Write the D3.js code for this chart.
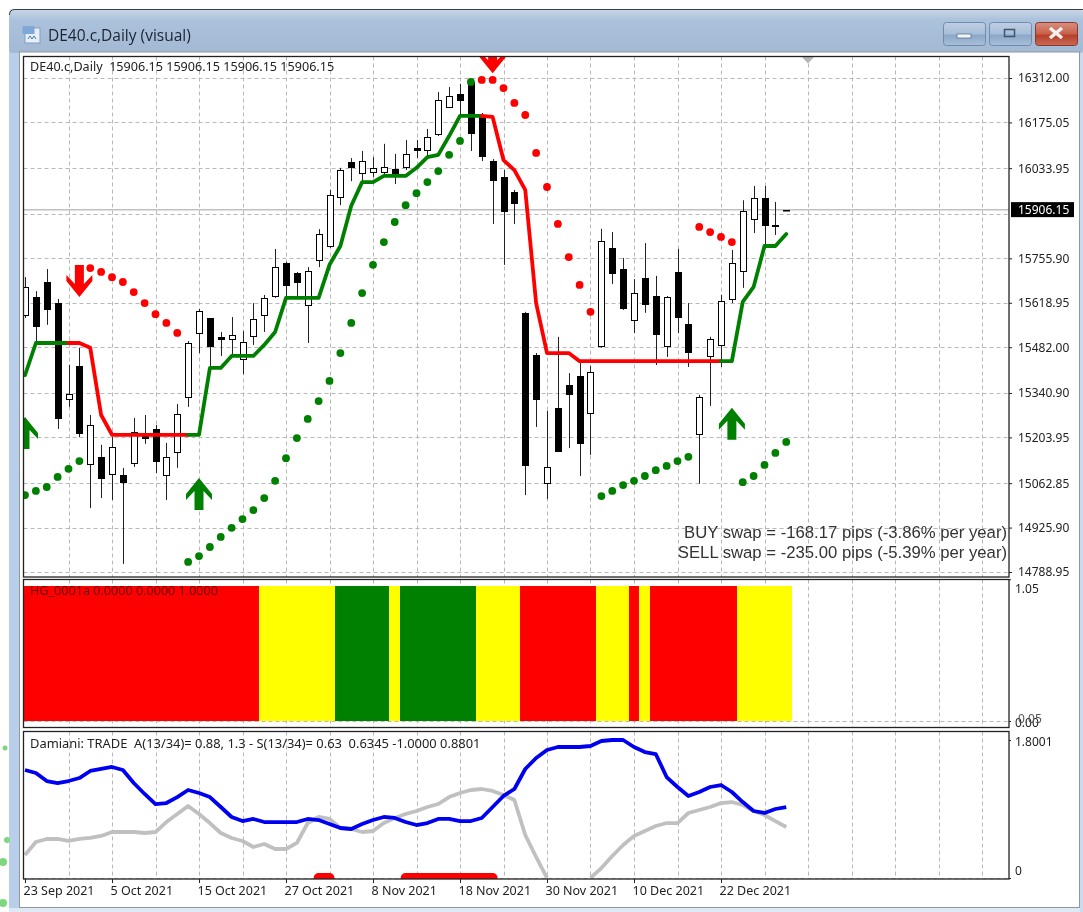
<!DOCTYPE html>
<html>
<head>
<meta charset="utf-8">
<title>DE40.c,Daily (visual)</title>
<script src="https://d3js.org/d3.v7.min.js"></script>
<style>
  html, body { margin: 0; padding: 0; background: #fff; }
  svg { display: block; filter: blur(0.35px); }
  text { font-family: "Noto Sans", "DejaVu Sans", sans-serif; white-space: pre; }
</style>
</head>
<body>
<div id="chart"></div>
<script>
// 1. data
const opens = [15581,15637,15683,15618,15322,15424,15122,15144,15091,15088,
  15125,15218,15230,15088,15159,15329,15526,15572,15514,15507,
  15446,15517,15581,15640,15742,15711,15612,15751,15794,15945,
  16053,16019,16022,16022,16031,16038,16096,16090,16139,16223,
  16263,16300,16198,16056,16007,15961,15588,15458,15063,15295,
  15366,15393,15279,15486,15788,15723,15566,15695,15640,15486,
  15714,15554,15215,15455,15489,15631,15717,15877,15942,15859,15906.15];
const highs = [15698,15655,15723,15631,15427,15480,15273,15181,15205,15110,
  15264,15273,15242,15187,15307,15501,15600,15572,15529,15575,
  15532,15618,15643,15785,15745,15714,15729,15846,15967,16035,
  16065,16087,16068,16109,16078,16121,16121,16155,16269,16284,
  16294,16306,16204,16062,16028,15967,15591,15464,15286,15514,
  15402,15433,15424,15847,15837,15757,15692,15803,15702,15640,
  15785,15618,15335,15514,15643,15782,15935,15979,15979,15930,15906.15];
const lows = [15572,15498,15551,15230,15298,15205,14986,15017,15011,14814,
  15113,15184,15094,15011,15110,15298,15464,15421,15455,15458,
  15399,15489,15529,15634,15634,15634,15495,15729,15788,15920,
  15994,15991,16007,16013,15985,16028,16065,16068,16133,16223,
  16198,16087,16056,15862,15736,15862,15026,15236,15014,15162,
  15171,15085,15150,15480,15677,15597,15526,15588,15427,15452,
  15526,15421,15061,15301,15421,15618,15665,15834,15797,15828,15906.15];
const closes = [15668,15547,15600,15264,15338,15218,15242,15079,15174,15066,
  15220,15202,15131,15144,15276,15495,15594,15486,15509,15520,
  15498,15569,15634,15729,15674,15683,15717,15831,15951,16028,
  16038,16056,16035,16038,16016,16078,16090,16130,16244,16257,
  16244,16142,16071,15998,15902,15927,15119,15322,15113,15162,
  15338,15187,15405,15810,15711,15603,15649,15615,15523,15637,
  15575,15467,15329,15507,15625,15742,15902,15942,15859,15856,15906.15];

// trend line, with runs of [from, to, direction]
const trend = [15396,15495,15495,15495,15495,15495,15480,15273,15212,15212,
  15212,15212,15212,15212,15212,15212,15212,15418,15418,15455,
  15455,15455,15489,15529,15634,15634,15634,15634,15736,15794,
  15918,15991,15991,16010,16010,16010,16035,16068,16075,16133,
  16195,16195,16195,16192,16059,16028,15967,15618,15464,15464,
  15464,15439,15439,15439,15439,15439,15439,15439,15439,15439,
  15439,15439,15439,15439,15439,15439,15622,15668,15794,15794,15831];
const trendRuns = [[0,4,1],[4,15,-1],[15,42,1],[42,64,-1],[64,70,1]];

// dotted stop line
const sar = [15026,15039,15051,15082,15107,15131,
  15726,15714,15698,15683,15652,15618,15584,15557,15526,
  14820,14838,14866,14897,14925,14952,14980,15017,15070,15140,
  15202,15261,15316,15378,15464,15557,15649,15736,15806,15868,
  15920,15957,15991,16025,16075,16118,16300,
  16306,16306,16281,16235,16198,16081,15976,15862,15760,15674,15591,
  15023,15039,15057,15070,15085,15103,15116,15131,15144,
  15853,15837,15822,15806,
  15066,15085,15119,15156,15190];
const sarRuns = [[0,5,1],[6,14,-1],[15,41,1],[42,52,-1],[53,61,1],[62,65,-1],[66,70,1]];

// arrows: [bar, tip price, direction]
const arrows = [[0,15267,1],[5,15637,-1],[16,15079,1],[43,16327,-1],[65,15295,1]];

// HG_0001a: 0 green, 1 yellow, 2 red
const hgState = [2,2,2,2,2,2,2,2,2,2,2,2,2,2,2,2,2,2,2,2,2,2,
  1,1,1,1,1,1,1,
  0,0,0,0,0,
  1,
  0,0,0,0,0,0,0,
  1,1,1,1,
  2,2,2,2,2,2,2,
  1,1,1,
  2,
  1,
  2,2,2,2,2,2,2,2,
  1,1,1,1,1];

// Damiani
const damianiA = [1.409,1.370,1.265,1.239,1.265,1.304,1.396,1.422,1.448,1.409,
  1.239,1.096,.965,.978,1.056,1.148,1.109,1.056,.926,.796,
  .743,.770,.730,.730,.730,.730,.770,.756,.704,.652,
  .639,.704,.756,.796,.783,.730,.691,.717,.770,.770,
  .743,.743,.783,.926,1.070,1.161,1.422,1.565,1.670,1.709,
  1.709,1.709,1.722,1.787,1.800,1.800,1.709,1.643,1.617,1.317,
  1.187,1.070,1.122,1.187,1.213,1.122,.991,.874,.848,.900,.926];
const damianiS = [.300,.470,.509,.509,.483,.509,.522,.548,.600,.600,
  .600,.587,.600,.730,.835,.939,.835,.717,.587,.522,
  .483,.404,.443,.378,.378,.457,.717,.796,.770,.652,
  .639,.600,.613,.717,.783,.835,.874,.926,.965,1.056,
  1.109,1.148,1.161,1.135,1.083,1.017,.561,.274,0,null,
  null,null,0,.130,.287,.430,.548,.613,.678,.717,
  .717,.848,.887,.926,.978,.991,.952,.874,.822,.743,.665];
const signalRuns = [[27,28],[35,43]];

// tick labels
const priceTicks = [16312,16175.05,16033.95,15892.85,15755.9,15618.95,15482,15340.9,15203.95,15062.85,14925.9,14788.95];
const hiddenPriceTick = 15892.85;
const currentPrice = 15906.15;
const gridBars = d3.range(4, 90, 4);
const dateTicks = [0,8,16,24,32,40,48,56,64];
const dateLabels = ["23 Sep 2021","5 Oct 2021","15 Oct 2021","27 Oct 2021","8 Nov 2021","18 Nov 2021","30 Nov 2021","10 Dec 2021","22 Dec 2021"];
const hgTicks = [1.05, 0];
const damianiTicks = [1.8001, 0];

const mainLegend = "DE40.c,Daily  15906.15 15906.15 15906.15 15906.15";
const hgLegend = "HG_0001a 0.0000 0.0000 1.0000";
const damianiLegend = "Damiani: TRADE  A(13/34)= 0.88, 1.3 - S(13/34)= 0.63  0.6345 -1.0000 0.8801";
const swapLines = ["BUY swap = -168.17 pips (-3.86% per year)", "SELL swap = -235.00 pips (-5.39% per year)"];

// 2. layout
const W = 1083, H = 912;
const plotL = 23.5, plotR = 1009;
const mainTop = 56.5, mainBottom = 577;
const hgTop = 579.5, hgBottom = 727.5;
const damTop = 731.5, damBottom = 879;
const GREEN = "#008000", RED = "#ff0000", YELLOW = "#ffff00", GRID = "#c0c0c0";

const x = d3.scaleLinear().domain([0, 90]).range([25, 25 + 90 * 10.875]);
const y = d3.scaleLinear().domain([14788.95, 16312]).range([572, 78]);
const yHg = d3.scaleLinear().domain([0, 1]).range([721, 586]);
const yDam = d3.scaleLinear().domain([0, 1.8001]).range([878, 740]);

const svg = d3.select("#chart").append("svg").attr("width", W).attr("height", H);
const defs = svg.append("defs");

function gradient(id, stops) {
  const g = defs.append("linearGradient").attr("id", id).attr("x1", 0).attr("y1", 0).attr("x2", 0).attr("y2", 1);
  stops.forEach(s => g.append("stop").attr("offset", s[0]).attr("stop-color", s[1]));
}
gradient("titleBar", [[0, "#c9d8e9"], [0.25, "#abc1dc"], [1, "#a3b9d3"]]);
gradient("btn", [[0, "#c0d0e4"], [0.5, "#a8bdd8"], [0.55, "#8ba6c6"], [1, "#a9c0da"]]);
gradient("btnClose", [[0, "#d68f80"], [0.5, "#c8604a"], [0.55, "#b83e28"], [1, "#c86a55"]]);

function addClip(id, top, bottom) {
  defs.append("clipPath").attr("id", id).append("rect")
    .attr("x", plotL + 0.5).attr("y", top).attr("width", plotR - plotL - 0.5).attr("height", bottom - top);
}
addClip("clipMain", mainTop, mainBottom);
addClip("clipHg", hgTop, hgBottom);
addClip("clipDam", damTop, damBottom);

// 3. window frame
const chrome = svg.append("g");
chrome.append("rect").attr("x", 9).attr("y", 9).attr("width", W - 9).attr("height", H - 9).attr("rx", 4).attr("fill", "#b9cfe9");
chrome.append("rect").attr("x", 9).attr("y", 9).attr("width", W - 9).attr("height", 44).attr("rx", 4).attr("fill", "url(#titleBar)");
chrome.append("path").attr("d", "M9.5 15 Q9.5 9.5 15 9.5 H1083").attr("fill", "none").attr("stroke", "#3a3f45");
chrome.append("rect").attr("x", 19.5).attr("y", 52).attr("width", 1060).attr("height", 855.5).attr("fill", "#fff").attr("stroke", "#8f979f");
chrome.append("rect").attr("x", 9).attr("y", 908).attr("width", W - 9).attr("height", 4).attr("fill", "#dfe9f3");
chrome.append("rect").attr("x", 1080).attr("y", 53).attr("width", 3).attr("height", 859).attr("fill", "#c9dbee");

// leftovers of the window behind, at the left edge
const leftoverDots = [[5, 748, 2.5], [7, 840, 3], [3, 862, 4], [3, 903, 4]];
chrome.selectAll("circle.leftover").data(leftoverDots).join("circle")
  .attr("class", "leftover").attr("cx", d => d[0]).attr("cy", d => d[1]).attr("r", d => d[2]).attr("fill", "#7ed67e");

// icon and title
const icon = chrome.append("g").attr("transform", "translate(22,25)");
icon.append("rect").attr("x", 3).attr("y", 3).attr("width", 15).attr("height", 15).attr("fill", "#e6eef8").attr("stroke", "#7f9fc7");
icon.append("rect").attr("x", 0.5).attr("y", 1).attr("width", 12).attr("height", 8).attr("fill", "#7fa8d8");
icon.append("path").attr("d", "M6 14 l2 -3 l2 3 l2 -3 l2 3").attr("fill", "none").attr("stroke", "#4a78b0");
chrome.append("text").attr("x", 48).attr("y", 41).attr("font-size", 15.5).attr("fill", "#1a2433")
  .style("font-family", "'Open Sans', 'Noto Sans', sans-serif").text("DE40.c,Daily (visual)");

// window buttons
[[943, "btn"], [989, "btn"], [1035, "btnClose"]].forEach(b => {
  chrome.append("rect").attr("x", b[0] + 0.5).attr("y", 22.5).attr("width", 42).attr("height", 23).attr("rx", 3)
    .attr("fill", `url(#${b[1]})`).attr("stroke", b[1] === "btn" ? "#6f8cae" : "#8a3a2c");
});
chrome.append("rect").attr("x", 957).attr("y", 34).attr("width", 14).attr("height", 4).attr("fill", "#f0f4f8").attr("stroke", "#4c6482").attr("stroke-width", 0.7);
chrome.append("rect").attr("x", 1004.5).attr("y", 29.5).attr("width", 10).attr("height", 7).attr("fill", "none").attr("stroke", "#3f5572").attr("stroke-width", 1.5);
chrome.append("path").attr("d", "M1050 28 l12 10 M1062 28 l-12 10").attr("stroke", "#f5f2ee").attr("stroke-width", 3.5);

// 4. grid, one panel at a time
function panelGrid(top, bottom, yScale, ticks, clipId) {
  const g = svg.append("g").attr("clip-path", `url(#${clipId})`)
    .attr("stroke", "#b8b8b8").attr("stroke-dasharray", "4,3").attr("stroke-width", 1);
  g.selectAll("line.v").data(gridBars).join("line").attr("class", "v")
    .attr("x1", d => Math.round(x(d)) + 0.5).attr("x2", d => Math.round(x(d)) + 0.5)
    .attr("y1", top).attr("y2", bottom);
  g.selectAll("line.h").data(ticks).join("line").attr("class", "h")
    .attr("x1", plotL).attr("x2", plotR)
    .attr("y1", d => Math.round(yScale(d)) + 0.5).attr("y2", d => Math.round(yScale(d)) + 0.5);
}
panelGrid(mainTop, mainBottom, y, priceTicks, "clipMain");
panelGrid(hgTop, hgBottom, yHg, [0], "clipHg");
panelGrid(damTop, damBottom, yDam, [0], "clipDam");

// 5. main panel
const main = svg.append("g").attr("clip-path", "url(#clipMain)");

main.append("line").attr("x1", plotL).attr("x2", plotR)
  .attr("y1", y(currentPrice)).attr("y2", y(currentPrice))
  .attr("stroke", GRID).attr("stroke-width", 1.5);

// marker on top of the chart
main.append("path").datum(72)
  .attr("d", d => `M${x(d) - 6.5} ${mainTop} h13 l-6.5 7 z`).attr("fill", "#b5b5b5");

const candles = main.append("g").selectAll("g").data(d3.range(closes.length)).join("g");
candles.append("line")
  .attr("x1", i => Math.round(x(i)) + 0.5).attr("x2", i => Math.round(x(i)) + 0.5)
  .attr("y1", i => y(highs[i])).attr("y2", i => y(lows[i]))
  .attr("stroke", "#222").attr("stroke-width", 1);
candles.append("rect")
  .attr("x", i => Math.round(x(i)) - 2.5)
  .attr("width", 6)
  .attr("y", i => Math.round(y(Math.max(opens[i], closes[i]))) + 0.5)
  .attr("height", i => Math.max(Math.round(Math.abs(y(opens[i]) - y(closes[i]))), 0.5))
  .attr("fill", i => closes[i] >= opens[i] ? "#fff" : "#000")
  .attr("stroke", "#000").attr("stroke-width", 1);

// dotted stop line
const sarDots = sarRuns.flatMap(r => d3.range(r[0], r[1] + 1).map(i => ({ i: i, dir: r[2] })));
main.append("g").selectAll("circle").data(sarDots).join("circle")
  .attr("cx", d => x(d.i)).attr("cy", d => y(sar[d.i])).attr("r", 3.9)
  .attr("fill", d => d.dir > 0 ? GREEN : RED);

// trend line
const trendLine = d3.line().x(i => x(i)).y(i => y(trend[i]));
main.append("g").selectAll("path").data(trendRuns).join("path")
  .attr("d", r => trendLine(d3.range(r[0], r[1] + 1)))
  .attr("fill", "none").attr("stroke", r => r[2] > 0 ? GREEN : RED)
  .attr("stroke-width", 3.8).attr("stroke-linejoin", "round").attr("stroke-linecap", "round");

// arrows
const arrowPts = [[0,0],[13,16],[13,22],[4.5,13],[4.5,32],[-4.5,32],[-4.5,13],[-13,22],[-13,16]];
main.append("g").selectAll("polygon").data(arrows).join("polygon")
  .attr("points", arrowPts.join(" "))
  .attr("transform", d => `translate(${x(d[0])},${y(d[1])}) scale(1,${d[2]})`)
  .attr("fill", d => d[2] > 0 ? GREEN : RED);

// swap text
svg.append("g").selectAll("text").data(swapLines).join("text")
  .attr("x", 1007).attr("y", (d, i) => 538 + i * 19.5)
  .attr("text-anchor", "end").attr("font-size", 16.7).attr("fill", "#333")
  .style("font-family", "'Liberation Sans', Arial, sans-serif").text(d => d);

// 6. HG panel
const bandColor = [GREEN, YELLOW, RED];
svg.append("g").attr("clip-path", "url(#clipHg)").attr("shape-rendering", "crispEdges")
  .selectAll("rect").data(hgState).join("rect")
  .attr("x", (d, i) => x(i - 0.5))
  .attr("width", (d, i) => x(i + 0.5) - x(i - 0.5) + 0.5)
  .attr("y", yHg(1)).attr("height", yHg(0) - yHg(1))
  .attr("fill", d => bandColor[d]);

// 7. Damiani panel
const dam = svg.append("g").attr("clip-path", "url(#clipDam)");
const damLine = d3.line().defined(d => d !== null).x((d, i) => x(i)).y(d => yDam(d));
dam.append("path").attr("d", damLine(damianiS)).attr("fill", "none").attr("stroke", "#c0c0c0")
  .attr("stroke-width", 3.8).attr("stroke-linejoin", "round");
dam.append("path").attr("d", damLine(damianiA)).attr("fill", "none").attr("stroke", "#0000f0")
  .attr("stroke-width", 3.8).attr("stroke-linejoin", "round");
dam.append("g").selectAll("line").data(signalRuns).join("line")
  .attr("x1", r => x(r[0])).attr("x2", r => x(r[1]))
  .attr("y1", yDam(0)).attr("y2", yDam(0))
  .attr("stroke", RED).attr("stroke-width", 10).attr("stroke-linecap", "round");

// 8. panel borders
[[mainTop, mainBottom], [hgTop, hgBottom], [damTop, damBottom]].forEach(p => {
  svg.append("rect").attr("x", plotL).attr("y", p[0]).attr("width", plotR - plotL).attr("height", p[1] - p[0])
    .attr("fill", "none").attr("stroke", "#222").attr("stroke-width", 1.3);
});

// 9. axes
function styleAxis(g, size) {
  g.select(".domain").remove();
  g.selectAll("line").attr("stroke", "#222");
  g.selectAll("text").attr("font-size", size).attr("fill", "#222");
}

const visiblePriceTicks = priceTicks.filter(d => d !== hiddenPriceTick);
svg.append("g").attr("transform", `translate(${plotR},0)`)
  .call(d3.axisRight(y).tickValues(visiblePriceTicks).tickSize(3).tickPadding(6).tickFormat(d3.format(".2f")))
  .call(g => styleAxis(g, 12));

// the labels of these two panels sit off their ticks on the picture
svg.append("g").attr("transform", `translate(${plotR},0)`)
  .call(d3.axisRight(yHg).tickValues(hgTicks).tickSize(2).tickPadding(4).tickFormat(d3.format(".2f")))
  .call(g => styleAxis(g, 12))
  .call(g => g.selectAll("text").attr("dy", d => d === 0 ? 5.7 : 13));
// the two labels at the bottom are printed over each other
svg.append("text").attr("x", plotR + 9).attr("y", yHg(0)).attr("dy", 2)
  .attr("font-size", 12).attr("fill", "#555").text("0.05");

svg.append("g").attr("transform", `translate(${plotR},0)`)
  .call(d3.axisRight(yDam).tickValues(damianiTicks).tickSize(2).tickPadding(4)
    .tickFormat(d => d === 0 ? "0" : d3.format(".4f")(d)))
  .call(g => styleAxis(g, 12))
  .call(g => g.selectAll("text").attr("dy", d => d === 0 ? -4 : 5));

svg.append("g").attr("transform", `translate(0,${damBottom})`)
  .call(d3.axisBottom(x).tickValues(dateTicks).tickSize(4).tickPadding(3)
    .tickFormat((d, i) => dateLabels[i]))
  .call(g => styleAxis(g, 12.5))
  .call(g => g.selectAll("text").attr("text-anchor", "start").attr("dx", -2));

// current price box
svg.append("rect").attr("x", 1011).attr("y", y(currentPrice) - 7.5).attr("width", 63).attr("height", 15).attr("fill", "#000");
svg.append("text").attr("x", 1018).attr("y", y(currentPrice)).attr("dy", "0.34em")
  .attr("font-size", 12).attr("fill", "#fff").text(d3.format(".2f")(currentPrice));

// 10. legends
svg.append("text").attr("x", 30).attr("y", 71).attr("font-size", 12.6).attr("fill", "#222").text(mainLegend);
svg.append("text").attr("x", 30).attr("y", 595).attr("font-size", 12.6).attr("fill", "#6a0000").text(hgLegend);
svg.append("text").attr("x", 30).attr("y", 748).attr("font-size", 12.9).attr("fill", "#222").text(damianiLegend);
</script>
</body>
</html>
